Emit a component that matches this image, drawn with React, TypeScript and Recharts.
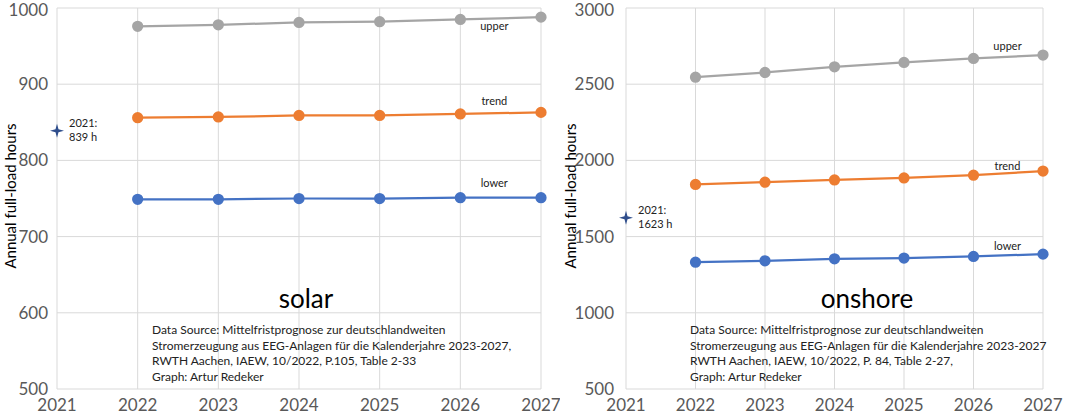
import { Line, XAxis, YAxis, CartesianGrid, Scatter, ComposedChart } from 'recharts';

const years = [2022, 2023, 2024, 2025, 2026, 2027];
const yearTicks = [2021, 2022, 2023, 2024, 2025, 2026, 2027];

const solarUpper = [976, 978, 981, 982, 985, 988];
const solarTrend = [856, 857, 859, 859, 861, 863];
const solarLower = [749, 749, 750, 750, 751, 751];
const solarActual = 839;
const solarTicks = [500, 600, 700, 800, 900, 1000];

const onshoreUpper = [2546, 2577, 2614, 2643, 2669, 2691];
const onshoreTrend = [1842, 1857, 1872, 1885, 1903, 1930];
const onshoreLower = [1332, 1341, 1354, 1359, 1370, 1385];
const onshoreActual = 1623;
const onshoreTicks = [500, 1000, 1500, 2000, 2500, 3000];

const solarSource = [
  'Data Source: Mittelfristprognose zur deutschlandweiten',
  'Stromerzeugung aus EEG-Anlagen für die Kalenderjahre 2023-2027,',
  'RWTH Aachen, IAEW, 10/2022, P.105, Table 2-33',
  'Graph: Artur Redeker',
];
const onshoreSource = [
  'Data Source: Mittelfristprognose zur deutschlandweiten',
  'Stromerzeugung aus EEG-Anlagen für die Kalenderjahre 2023-2027',
  'RWTH Aachen, IAEW, 10/2022, P. 84, Table 2-27,',
  'Graph: Artur Redeker',
];

const GRAY = '#a5a5a5';
const ORANGE = '#ed7d31';
const BLUE = '#4472c4';
const STAR = '#2f4e8c';
const FONT = 'Lato, "Open Sans", sans-serif';

function buildRows(upper: number[], trend: number[], lower: number[], actual: number) {
  const rows: Array<Record<string, number | undefined>> = [{ year: 2021, actual }];
  years.forEach((y, i) => rows.push({ year: y, upper: upper[i], trend: trend[i], lower: lower[i] }));
  return rows;
}

// 4-point star plus its "2021: … h" note
const Star = (props: any) => {
  const { cx, cy, payload } = props;
  if (cx == null || cy == null) return null;
  const r = 7;
  const w = 1.5;
  const d = `M${cx},${cy - r} L${cx + w},${cy - w} L${cx + r},${cy} L${cx + w},${cy + w} L${cx},${cy + r} L${cx - w},${cy + w} L${cx - r},${cy} L${cx - w},${cy - w} Z`;
  return (
    <g>
      <path d={d} fill={STAR} />
      <text x={cx + 12} y={cy - 4} fontSize={11} fontFamily={FONT} fill="#222">
        <tspan x={cx + 12}>2021:</tspan>
        <tspan x={cx + 12} dy={14}>{`${payload.actual} h`}</tspan>
      </text>
    </g>
  );
};

// row 0 is 2021 (no forecast), so the 2026 point is index 5
function seriesLabel(text: string, dx: number, dy: number) {
  return (props: any) => {
    if (props.index !== 5) return null;
    return (
      <text x={props.x + dx} y={props.y + dy} fontSize={11} fontFamily={FONT} fill="#222" textAnchor="middle">
        {text}
      </text>
    );
  };
}

interface PanelProps {
  width: number;
  axisWidth: number;
  tickMargin: number;
  rightMargin: number;
  domain: [number, number];
  ticks: number[];
  upper: number[];
  trend: number[];
  lower: number[];
  actual: number;
  title: string;
  titleX: number;
  source: string[];
  sourceX: number;
  labels: { upper: number; trend: number; lower: number };
}

function Panel(p: PanelProps) {
  const rows = buildRows(p.upper, p.trend, p.lower, p.actual);
  return (
    <div style={{ position: 'relative', width: p.width, height: 418 }}>
      <ComposedChart
        width={p.width}
        height={418}
        data={rows}
        margin={{ top: 8, right: p.rightMargin, left: 0, bottom: 0 }}
      >
        <CartesianGrid stroke="#d9d9d9" strokeWidth={1} />
        <XAxis
          dataKey="year"
          type="number"
          domain={[2021, 2027]}
          ticks={yearTicks}
          axisLine={false}
          tickLine={false}
          tick={{ fontSize: 17, fill: '#595959', fontFamily: FONT }}
          tickMargin={4}
          height={29}
        />
        <YAxis
          type="number"
          domain={p.domain}
          ticks={p.ticks}
          axisLine={false}
          tickLine={false}
          width={p.axisWidth}
          tick={{ fontSize: 17, fill: '#595959', fontFamily: FONT }}
          tickMargin={p.tickMargin}
        />
        <Line dataKey="upper" stroke={GRAY} strokeWidth={2.25} dot={{ r: 4.5, fill: GRAY, stroke: GRAY }} isAnimationActive={false} label={seriesLabel('upper', 34, p.labels.upper)} />
        <Line dataKey="trend" stroke={ORANGE} strokeWidth={2.25} dot={{ r: 4.5, fill: ORANGE, stroke: ORANGE }} isAnimationActive={false} label={seriesLabel('trend', 34, p.labels.trend)} />
        <Line dataKey="lower" stroke={BLUE} strokeWidth={2.25} dot={{ r: 4.5, fill: BLUE, stroke: BLUE }} isAnimationActive={false} label={seriesLabel('lower', 34, p.labels.lower)} />
        <Scatter dataKey="actual" shape={Star} isAnimationActive={false} />
      </ComposedChart>
      <svg width={30} height={418} style={{ position: 'absolute', left: 0, top: 0 }}>
        <text
          x={0}
          y={0}
          transform={`translate(16, 196) rotate(-90)`}
          textAnchor="middle"
          fontSize={15}
          fontFamily={FONT}
          fill="#000"
        >
          Annual full-load hours
        </text>
      </svg>
      <div
        style={{
          position: 'absolute',
          left: p.titleX,
          top: 282,
          transform: 'translateX(-50%)',
          fontSize: 26,
          fontFamily: FONT,
          color: '#000',
          whiteSpace: 'nowrap',
        }}
      >
        {p.title}
      </div>
      <div
        style={{
          position: 'absolute',
          left: p.sourceX,
          top: 322,
          fontSize: 12,
          lineHeight: '15.5px',
          fontFamily: FONT,
          color: '#222',
          whiteSpace: 'nowrap',
        }}
      >
        {p.source.map((s) => (
          <div key={s}>{s}</div>
        ))}
      </div>
    </div>
  );
}

export default function App() {
  return (
    <div style={{ position: 'absolute', left: 0, top: 0, width: 1065, height: 418, background: '#fff', display: 'flex' }}>
      <Panel
        width={560}
        axisWidth={57}
        tickMargin={3}
        rightMargin={19}
        domain={[500, 1000]}
        ticks={solarTicks}
        upper={solarUpper}
        trend={solarTrend}
        lower={solarLower}
        actual={solarActual}
        title="solar"
        titleX={306}
        source={solarSource}
        sourceX={152}
        labels={{ upper: 11, trend: -9, lower: -11 }}
      />
      <Panel
        width={505}
        axisWidth={66}
        tickMargin={6}
        rightMargin={22}
        domain={[500, 3000]}
        ticks={onshoreTicks}
        upper={onshoreUpper}
        trend={onshoreTrend}
        lower={onshoreLower}
        actual={onshoreActual}
        title="onshore"
        titleX={307}
        source={onshoreSource}
        sourceX={130}
        labels={{ upper: -8, trend: -5, lower: -6 }}
      />
    </div>
  );
}
